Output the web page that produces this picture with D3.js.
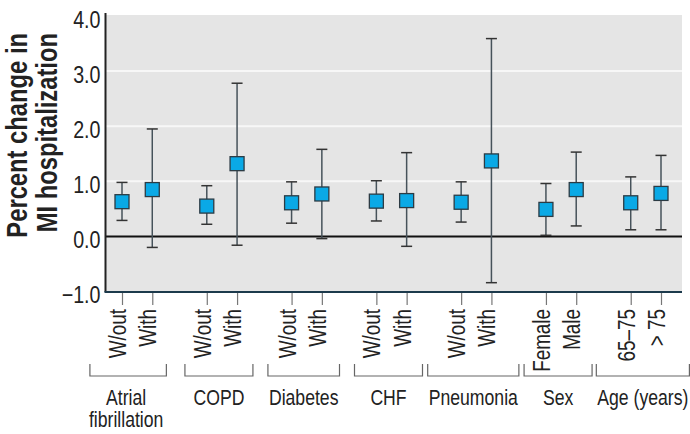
<!DOCTYPE html>
<html>
<head>
<meta charset="utf-8">
<script src="https://cdn.jsdelivr.net/npm/d3@7"></script>
<style>
  html, body { margin: 0; padding: 0; background: #fff; }
  svg { display: block; }
  text { font-family: "Liberation Sans", Arial, sans-serif; fill: #222; }
</style>
</head>
<body>
<svg id="chart" width="690" height="434"></svg>
<script>
// ---- data ----
const groups = [["Atrial", "fibrillation"], ["COPD"], ["Diabetes"], ["CHF"], ["Pneumonia"], ["Sex"], ["Age (years)"]];
const subLabels = [["W/out", "With"], ["W/out", "With"], ["W/out", "With"], ["W/out", "With"], ["W/out", "With"], ["Female", "Male"], ["65\u201375", "> 75"]];
const estimates = [[0.63, 0.85], [0.55, 1.32], [0.61, 0.77], [0.64, 0.65], [0.62, 1.37], [0.49, 0.85], [0.61, 0.78]];
const lowerCI   = [[0.29, -0.20], [0.22, -0.16], [0.24, -0.04], [0.28, -0.18], [0.26, -0.84], [0.02, 0.19], [0.12, 0.12]];
const upperCI   = [[0.98, 1.95], [0.92, 2.78], [0.99, 1.58], [1.01, 1.52], [0.99, 3.59], [0.96, 1.53], [1.08, 1.47]];
const yTicks = [-1, 0, 1, 2, 3, 4];
const yTitle = ["Percent change in", "MI hospitalization"];

// ---- layout ----
const K = 0.82; // horizontal condensing factor (narrow face emulation)
const svg = d3.select("#chart");
const plot = { left: 105.5, right: 682, top: 15, bottom: 292 };
const groupStep = 2.8;
const points = [];
groups.forEach((g, gi) => {
  subLabels[gi].forEach((s, si) => {
    points.push({ gi, si, label: s, pos: gi * groupStep + si,
      est: estimates[gi][si], lo: lowerCI[gi][si], hi: upperCI[gi][si] });
  });
});
const x = d3.scaleLinear().domain([0, (groups.length - 1) * groupStep + 1]).range([122, 661]);
const y = d3.scaleLinear().domain([-1, 4]).range([291.5, 16]);

// background
svg.append("rect").attr("x", plot.left).attr("y", plot.top)
  .attr("width", plot.right - plot.left).attr("height", plot.bottom - plot.top)
  .attr("fill", "#e5e5e5");

// gridlines
svg.append("g").selectAll("line").data([1, 2, 3]).join("line")
  .attr("x1", plot.left).attr("x2", plot.right)
  .attr("y1", d => y(d)).attr("y2", d => y(d))
  .attr("stroke", "#f7f7f7").attr("stroke-width", 2);

// zero line
svg.append("line").attr("x1", plot.left).attr("x2", plot.right)
  .attr("y1", y(0)).attr("y2", y(0)).attr("stroke", "#111").attr("stroke-width", 2);

// y axis
const yAxis = d3.axisLeft(y).tickValues(yTicks).tickSize(0).tickPadding(5)
  .tickFormat(d => d < 0 ? "\u2212" + Math.abs(d).toFixed(1) : d.toFixed(1));
const yg = svg.append("g").attr("transform", `translate(${plot.left},0)`).call(yAxis);
yg.select(".domain").remove();
yg.selectAll("text").attr("font-size", 24).attr("fill", "#222").attr("dy", "0.35em")
  .attr("x", -5 / K)
  .attr("transform", `translate(0,3) scale(${K},1)`)
  .style("font-family", '"Liberation Sans", Arial, sans-serif');
svg.append("line").attr("x1", plot.left).attr("x2", plot.left)
  .attr("y1", plot.top - 2).attr("y2", plot.bottom).attr("stroke", "#222").attr("stroke-width", 2);

// bottom axis
const xAxis = d3.axisBottom(x).tickValues(points.map(p => p.pos)).tickSize(13).tickFormat("");
const xg = svg.append("g").attr("transform", `translate(0,${plot.bottom})`).call(xAxis);
xg.select(".domain").remove();
xg.selectAll(".tick line").attr("stroke", "#777").attr("stroke-width", 1.2);
svg.append("line").attr("x1", plot.left - 1).attr("x2", plot.right)
  .attr("y1", plot.bottom).attr("y2", plot.bottom).attr("stroke", "#1c3a4c").attr("stroke-width", 2.2);

// sub labels (rotated)
svg.append("g").selectAll("text").data(points).join("text")
  .attr("transform", d => `translate(${x(d.pos) + 4},309) rotate(-90) scale(${K},1)`)
  .attr("text-anchor", "end").attr("font-size", 23).attr("fill", "#222")
  .text(d => d.label);

// group brackets and labels
const gLab = svg.append("g");
groups.forEach((g, gi) => {
  const cx = (x(gi * groupStep) + x(gi * groupStep + 1)) / 2 - 3;
  const lx = gi === 0 ? cx - 8 : cx;
  const t = gLab.append("text").attr("text-anchor", "middle").attr("font-size", 21.5).attr("fill", "#222")
    .attr("transform", `translate(${lx},0) scale(${K},1)`);
  g.forEach((line, li) => {
    t.append("tspan").attr("x", 0).attr("y", 405 + li * 22).text(line);
  });
  let w = 68;
  t.selectAll("tspan").each(function () { w = Math.max(w, this.getComputedTextLength() * K + 2); });
  const bcx = gi === 0 ? cx - 6 : cx;
  gLab.append("path")
    .attr("d", `M${bcx - w / 2},364 V376 H${bcx + w / 2} V364`)
    .attr("fill", "none").attr("stroke", "#666").attr("stroke-width", 1.2);
});

// error bars
const capW = 11, box = 14;
const eb = svg.append("g");
eb.selectAll("line.whisker").data(points).join("line").attr("class", "whisker")
  .attr("x1", d => x(d.pos)).attr("x2", d => x(d.pos))
  .attr("y1", d => y(d.lo)).attr("y2", d => y(d.hi))
  .attr("stroke", "#46525a").attr("stroke-width", 1.5);
eb.selectAll("line.capHi").data(points).join("line").attr("class", "capHi")
  .attr("x1", d => x(d.pos) - capW / 2).attr("x2", d => x(d.pos) + capW / 2)
  .attr("y1", d => y(d.hi)).attr("y2", d => y(d.hi))
  .attr("stroke", "#333").attr("stroke-width", 1.5);
eb.selectAll("line.capLo").data(points).join("line").attr("class", "capLo")
  .attr("x1", d => x(d.pos) - capW / 2).attr("x2", d => x(d.pos) + capW / 2)
  .attr("y1", d => y(d.lo)).attr("y2", d => y(d.lo))
  .attr("stroke", "#333").attr("stroke-width", 1.5);
eb.selectAll("rect").data(points).join("rect")
  .attr("x", d => x(d.pos) - box / 2).attr("y", d => y(d.est) - box / 2)
  .attr("width", box).attr("height", box)
  .attr("fill", "#0aa9e6").attr("stroke", "#2c3b44").attr("stroke-width", 1.3);

// y title
const tt = svg.append("text").attr("transform", `rotate(-90) scale(${K},1)`)
  .attr("text-anchor", "end").attr("font-size", 29).attr("font-weight", "bold").attr("fill", "#222");
yTitle.forEach((line, i) => {
  tt.append("tspan").attr("x", -33 / K).attr("y", 27 + i * 30).text(line);
});
</script>
</body>
</html>
